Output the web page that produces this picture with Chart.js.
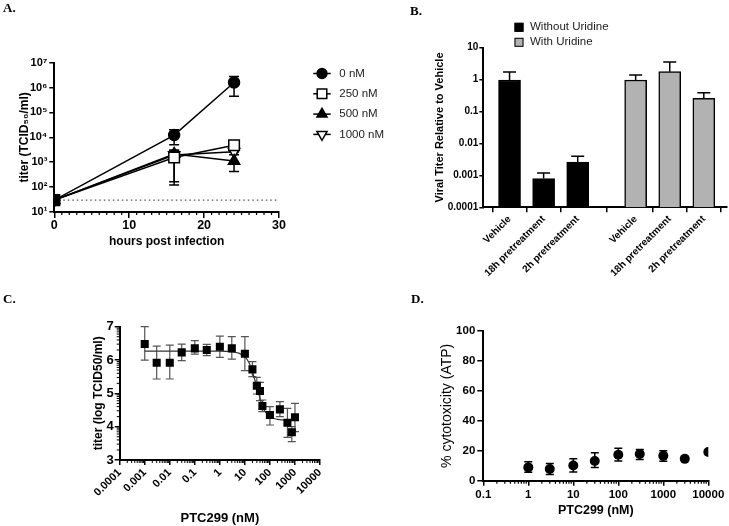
<!DOCTYPE html>
<html>
<head>
<meta charset="utf-8">
<script src="https://cdn.jsdelivr.net/npm/chart.js@4.4.1/dist/chart.umd.min.js"></script>
<style>
html,body{margin:0;padding:0;background:#fff;}
#wrap{position:relative;width:729px;height:526px;overflow:hidden;background:#fff;}
#wrap canvas{position:absolute;left:0;top:0;}
.pl{position:absolute;font-family:"Liberation Serif","Times New Roman",serif;font-weight:bold;font-size:13px;line-height:13px;color:#000;}
</style>
</head>
<body>
<div id="wrap">
  <canvas id="chartA" width="729" height="526"></canvas>
  <canvas id="chartB" width="729" height="526"></canvas>
  <canvas id="chartC" width="729" height="526"></canvas>
  <canvas id="chartD" width="729" height="526"></canvas>
  <div class="pl" style="left:3px;top:1px">A.</div>
  <div class="pl" style="left:410px;top:4px">B.</div>
  <div class="pl" style="left:3px;top:292px">C.</div>
  <div class="pl" style="left:411px;top:292px">D.</div>
</div>
<script>
// ---------------- DATA ----------------
// Panel A
const hoursA = [0, 16, 24];
const seriesLabelsA = ['0 nM', '250 nM', '500 nM', '1000 nM'];
const titerA_0 = [30, 12300, 1600000];
const titerA_250 = [30, 1550, 4800];
const titerA_500 = [30, 2150, 1130];
const titerA_1000 = [30, 1950, 2650];
const errHiA_0 = [null, 20000, 2800000];
const errLoA_0 = [null, 5000, 450000];
const errHiA_250 = [null, 3000, 5600];
const errLoA_250 = [null, 123, 4000];
const errHiA_500 = [null, 2700, 2600];
const errLoA_500 = [null, 1600, 420];
const errHiA_1000 = [null, 3000, 3300];
const errLoA_1000 = [null, 165, 2000];
const limitA = 30;
const xTicksA = [0, 10, 20, 30];
const yTicksA = [10, 100, 1000, 10000, 100000, 1000000, 10000000];
const yTickLabelsA = ['10\u00B9', '10\u00B2', '10\u00B3', '10\u2074', '10\u2075', '10\u2076', '10\u2077'];

// Panel B
const categoriesB = ['Vehicle', '18h pretreatment', '2h pretreatment'];
const withoutUridine = [0.97, 0.0008, 0.0026];
const withoutUridineErr = [1.73, 0.00118, 0.004];
const withUridine = [0.97, 1.78, 0.26];
const withUridineErr = [1.4, 3.55, 0.39];
const yTicksB = [0.0001, 0.001, 0.01, 0.1, 1, 10];
const yTickLabelsB = ['0.0001', '0.001', '0.01', '0.1', '1', '10'];

// Panel C
const concC = [0.001, 0.003, 0.01, 0.03, 0.1, 0.3, 1, 3, 10, 20, 30, 40, 50, 100, 250, 500, 750, 1000];
const titerC = [6.48, 5.92, 5.92, 6.23, 6.35, 6.30, 6.40, 6.35, 6.19, 5.72, 5.23, 5.07, 4.62, 4.35, 4.52, 4.12, 3.83, 4.28];
const titerHiC = [7.0, 6.42, 6.45, 6.48, 6.58, 6.47, 6.72, 6.70, 6.70, 5.95, 5.48, 5.33, 4.80, 4.60, 4.75, 4.55, 4.0, 4.7];
const titerLoC = [6.0, 5.43, 5.43, 5.98, 6.18, 6.13, 6.08, 6.03, 5.68, 5.50, 4.98, 4.78, 4.45, 4.05, 4.30, 3.68, 3.55, 3.85];
const fitXC = [0.001, 0.01, 0.1, 1, 3, 6, 10, 15, 20, 25, 30, 40, 50, 70, 100, 200, 500, 1000];
const fitYC = [6.27, 6.27, 6.27, 6.27, 6.25, 6.2, 6.1, 5.9, 5.65, 5.4, 5.2, 4.85, 4.6, 4.42, 4.3, 4.22, 4.2, 4.2];
const xTicksC = [0.0001, 0.001, 0.01, 0.1, 1, 10, 100, 1000, 10000];
const xTickLabelsC = ['0.0001', '0.001', '0.01', '0.1', '1', '10', '100', '1000', '10000'];
const yTicksC = [3, 4, 5, 6, 7];

// Panel D
const concD = [1, 3, 10, 30, 100, 300, 1000, 3000, 10000];
const cytoD = [8.9, 7.8, 10.2, 13.2, 17.3, 17.8, 16.6, 14.6, 19.2];
const cytoHiD = [12.7, 11.5, 14.6, 18.7, 21.6, 20.9, 20.0, null, null];
const cytoLoD = [5.6, 4.2, 5.8, 8.9, 13.1, 14.2, 13.0, null, null];
const xTicksD = [0.1, 1, 10, 100, 1000, 10000];
const xTickLabelsD = ['0.1', '1', '10', '100', '1000', '10000'];
const yTicksD = [0, 20, 40, 60, 80, 100];

// ---------------- HELPERS ----------------
const W = 729, H = 526;
const FAM = '"Liberation Sans", Arial, Helvetica, sans-serif';
Chart.defaults.font.family = FAM;
Chart.defaults.color = '#000';
Chart.defaults.animation = false;

function fnt(size, weight) { return {family: FAM, size: size, weight: weight || 'bold', lineHeight: 1.2}; }
function pad(a, yW, xH) { return {left: a.l - yW, top: a.t, right: W - a.r, bottom: H - a.b - xH}; }
function axisStyle(tl) {
  return {
    border: {display: true, color: '#000', width: 2},
    grid: {drawOnChartArea: false, drawTicks: true, tickLength: tl, tickColor: '#000', tickWidth: 1.5, color: '#000', lineWidth: 1.5}
  };
}
function setTicks(values) { return s => { s.ticks = values.map(v => ({value: v})); }; }

function drawMarker(ctx, style, x, y, r, fill, stroke, lw, rot) {
  ctx.save();
  ctx.translate(x, y);
  if (rot) ctx.rotate(rot * Math.PI / 180);
  ctx.beginPath();
  if (style === 'circle') ctx.arc(0, 0, r, 0, Math.PI * 2);
  else if (style === 'rect') { const s = r * Math.SQRT1_2; ctx.rect(-s, -s, 2 * s, 2 * s); }
  else if (style === 'triangle') {
    for (let k = 0; k < 3; k++) {
      const a = k * 2 * Math.PI / 3;
      const px = Math.sin(a) * r, py = -Math.cos(a) * r;
      if (k) ctx.lineTo(px, py); else ctx.moveTo(px, py);
    }
    ctx.closePath();
  }
  ctx.fillStyle = fill; ctx.fill();
  if (lw) { ctx.strokeStyle = stroke; ctx.lineWidth = lw; ctx.stroke(); }
  ctx.restore();
}

const errorBars = {
  id: 'errorBars',
  beforeDatasetsDraw(chart) {
    const ctx = chart.ctx;
    chart.data.datasets.forEach((ds, di) => {
      if (!ds.errHi && !ds.errLo) return;
      const meta = chart.getDatasetMeta(di);
      const ys = chart.scales[meta.yAxisID];
      const cap = ds.errCap || 8;
      ctx.save();
      ctx.strokeStyle = ds.errColor || '#000';
      ctx.lineWidth = ds.errWidth || 1.5;
      meta.data.forEach((el, i) => {
        const x = el.x;
        const hi = ds.errHi ? ds.errHi[i] : null;
        const lo = ds.errLo ? ds.errLo[i] : null;
        ctx.beginPath();
        if (hi != null) {
          const yh = ys.getPixelForValue(hi);
          ctx.moveTo(x, el.y); ctx.lineTo(x, yh);
          ctx.moveTo(x - cap / 2, yh); ctx.lineTo(x + cap / 2, yh);
        }
        if (lo != null) {
          const yl = ys.getPixelForValue(lo);
          ctx.moveTo(x, el.y); ctx.lineTo(x, yl);
          ctx.moveTo(x - cap / 2, yl); ctx.lineTo(x + cap / 2, yl);
        }
        ctx.stroke();
      });
      ctx.restore();
    });
  }
};

function makeMinor(cfg) {
  return {
    id: 'minor' + cfg.name,
    afterDraw(chart) {
      const ctx = chart.ctx, a = chart.chartArea;
      ctx.save();
      ctx.strokeStyle = '#000';
      ctx.lineWidth = cfg.width || 1.2;
      ctx.beginPath();
      if (cfg.x) {
        const s = chart.scales.x;
        cfg.x.forEach(v => { const p = s.getPixelForValue(v); ctx.moveTo(p, a.bottom); ctx.lineTo(p, a.bottom + cfg.xLen); });
      }
      if (cfg.y) {
        const s = chart.scales.y;
        cfg.y.forEach(v => { const p = s.getPixelForValue(v); ctx.moveTo(a.left - cfg.yLen, p); ctx.lineTo(a.left, p); });
      }
      ctx.stroke();
      ctx.restore();
    }
  };
}

function makeLegend(cfg) {
  return {
    id: 'legend' + cfg.name,
    afterDraw(chart) {
      const ctx = chart.ctx;
      ctx.save();
      ctx.textBaseline = 'middle';
      ctx.textAlign = 'left';
      let row = 0;
      chart.data.datasets.forEach(ds => {
        if (!ds.label || ds.noLegend) return;
        const y = cfg.y + row * cfg.dy;
        if (cfg.kind === 'line') {
          ctx.strokeStyle = '#000'; ctx.lineWidth = ds.borderWidth;
          ctx.beginPath(); ctx.moveTo(cfg.x, y); ctx.lineTo(cfg.x + cfg.lineLen, y); ctx.stroke();
          drawMarker(ctx, ds.pointStyle, cfg.x + cfg.lineLen / 2, y, ds.pointRadius * cfg.scale, ds.legendFill, '#000', ds.pointBorderWidth, ds.pointRotation);
        } else {
          ctx.fillStyle = ds.backgroundColor;
          ctx.fillRect(cfg.x, y - cfg.size / 2, cfg.size, cfg.size);
          ctx.strokeStyle = '#000'; ctx.lineWidth = 1;
          ctx.strokeRect(cfg.x + 0.5, y - cfg.size / 2 + 0.5, cfg.size - 1, cfg.size - 1);
        }
        ctx.font = cfg.font;
        ctx.fillStyle = cfg.textColor;
        ctx.fillText(ds.label, cfg.textX, y);
        row++;
      });
      ctx.restore();
    }
  };
}

const baseOpts = {
  responsive: false, animation: false, events: [],
  plugins: {legend: {display: false}, tooltip: {enabled: false}}
};

// ---------------- PANEL A ----------------
(function () {
  const area = {l: 54.3, t: 62.7, r: 279, b: 212};
  const yW = 36.5, xH = 37.2;
  const seriesA = [titerA_0, titerA_250, titerA_500, titerA_1000];
  const hiA = [errHiA_0, errHiA_250, errHiA_500, errHiA_1000];
  const loA = [errLoA_0, errLoA_250, errLoA_500, errLoA_1000];
  const marks = [
    {style: 'circle', r: 5.5, fill: '#000', rot: 0},
    {style: 'rect', r: 7.5, fill: '#fff', rot: 0},
    {style: 'triangle', r: 6.5, fill: '#000', rot: 0},
    {style: 'triangle', r: 6.5, fill: '#fff', rot: 180}
  ];
  const datasets = seriesA.map((vals, k) => ({
    label: seriesLabelsA[k],
    data: hoursA.map((h, i) => ({x: h, y: vals[i]})),
    showLine: true, borderColor: '#000', borderWidth: 1.5,
    pointStyle: marks[k].style, pointRadius: marks[k].r, pointRotation: marks[k].rot,
    pointBackgroundColor: k === 1 ? (c => c.dataIndex === 0 ? '#000' : '#fff') : marks[k].fill,
    legendFill: marks[k].fill,
    pointBorderColor: '#000', pointBorderWidth: 1.5,
    errHi: hiA[k], errLo: loA[k], errCap: 10, errWidth: 1.5
  }));
  datasets.push({
    label: 'limit', noLegend: true,
    data: [{x: xTicksA[0], y: limitA}, {x: xTicksA[xTicksA.length - 1], y: limitA}],
    showLine: true, borderColor: '#555', borderWidth: 1.3, borderDash: [1.5, 3], pointRadius: 0
  });
  const minorX = [];
  for (let v = 1; v < 30; v++) if (v % 10) minorX.push(v);
  new Chart(document.getElementById('chartA'), {
    type: 'scatter',
    data: {datasets},
    options: Object.assign({}, baseOpts, {
      layout: {padding: pad(area, yW, xH)},
      scales: {
        x: Object.assign({
          type: 'linear', min: 0, max: 30, bounds: 'data',
          afterBuildTicks: setTicks(xTicksA),
          afterFit: s => { s.height = xH; },
          ticks: {font: fnt(12.5), padding: 0, color: '#000', autoSkip: false, maxRotation: 0},
          title: {display: true, text: 'hours post infection', font: fnt(12), padding: 0, color: '#000'}
        }, axisStyle(6)),
        y: Object.assign({
          type: 'logarithmic', min: 10, max: 1e7, bounds: 'data',
          afterBuildTicks: setTicks(yTicksA),
          afterFit: s => { s.width = yW; },
          ticks: {font: fnt(11), padding: 2, color: '#000', autoSkip: false, callback: (v, i) => yTickLabelsA[i]},
          title: {display: true, text: 'titer (TCID\u2085\u2080/ml)', font: fnt(12), padding: 0, color: '#000'}
        }, axisStyle(5))
      }
    }),
    plugins: [errorBars, makeMinor({name: 'A', x: minorX, xLen: 3}),
      makeLegend({name: 'A', kind: 'line', x: 313.3, lineLen: 17.4, y: 73.5, dy: 20.3, textX: 339.3, scale: 0.9,
        font: '11.5px ' + FAM, textColor: '#222'})]
  });
})();

// ---------------- PANEL B ----------------
(function () {
  const area = {l: 483.3, t: 47.7, r: 727, b: 207.3};
  const yW = 49.9, xH = 80;
  const groupGap = 1.7; // spacing between the two groups, in bar slots
  const posB = (g, i) => 1 + g * (categoriesB.length - 1 + groupGap) + i;
  const xPos = [], xLabels = [];
  [0, 1].forEach(g => categoriesB.forEach((c, i) => { xPos.push(posB(g, i)); xLabels.push(c); }));
  const datasets = [
    {type: 'bar', label: 'Without Uridine', data: categoriesB.map((c, i) => ({x: posB(0, i), y: withoutUridine[i]})),
      backgroundColor: '#000', borderColor: '#000', borderWidth: 1.5, barThickness: 22, grouped: false,
      errHi: withoutUridineErr, errCap: 13, errWidth: 1.5},
    {type: 'bar', label: 'With Uridine', data: categoriesB.map((c, i) => ({x: posB(1, i), y: withUridine[i]})),
      backgroundColor: '#b2b2b2', borderColor: '#000', borderWidth: 1.5, barThickness: 22, grouped: false,
      errHi: withUridineErr, errCap: 13, errWidth: 1.5}
  ];
  new Chart(document.getElementById('chartB'), {
    type: 'bar',
    data: {datasets},
    options: Object.assign({}, baseOpts, {
      layout: {padding: pad(area, yW, xH)},
      scales: {
        x: Object.assign({
          type: 'linear', min: 1 - 0.77, max: 7.38, bounds: 'data', offset: false,
          afterBuildTicks: setTicks(xPos),
          afterFit: s => { s.height = xH; },
          ticks: {font: fnt(10), padding: 1, color: '#000', autoSkip: false, minRotation: 45, maxRotation: 45,
            callback: (v, i) => xLabels[i]}
        }, axisStyle(5)),
        y: Object.assign({
          type: 'logarithmic', min: 0.0001, max: 10, bounds: 'data',
          afterBuildTicks: setTicks(yTicksB),
          afterFit: s => { s.width = yW; },
          ticks: {font: fnt(10), padding: 1, color: '#000', autoSkip: false, callback: (v, i) => yTickLabelsB[i]},
          title: {display: true, text: 'Viral Titer Relative to Vehicle', font: fnt(11), padding: 0, color: '#000'}
        }, axisStyle(4))
      }
    }),
    plugins: [errorBars, makeLegend({name: 'B', kind: 'box', x: 514.5, size: 9, y: 27.3, dy: 15, textX: 530,
      font: '11.5px ' + FAM, textColor: '#222'})]
  });
})();

// ---------------- PANEL C ----------------
(function () {
  const area = {l: 119.7, t: 326.7, r: 320, b: 460};
  const yW = 28.4, xH = 65.8;
  const minorX = [];
  for (let k = -4; k < 4; k++) for (let m = 2; m <= 9; m++) minorX.push(m * Math.pow(10, k));
  const minorY = [];
  for (let k = 3; k < 7; k++) for (let m = 2; m <= 9; m++) minorY.push(k + Math.log10(m));
  const datasets = [
    {label: 'data', data: concC.map((c, i) => ({x: c, y: titerC[i]})), showLine: false,
      pointStyle: 'rect', pointRadius: 5.7, pointBackgroundColor: '#000', pointBorderColor: '#000', pointBorderWidth: 0,
      errHi: titerHiC, errLo: titerLoC, errCap: 8, errColor: '#555', errWidth: 1.2},
    {label: 'fit', data: fitXC.map((c, i) => ({x: c, y: fitYC[i]})), showLine: true, pointRadius: 0,
      borderColor: '#333', borderWidth: 1.2, cubicInterpolationMode: 'monotone'}
  ];
  new Chart(document.getElementById('chartC'), {
    type: 'scatter',
    data: {datasets},
    options: Object.assign({}, baseOpts, {
      layout: {padding: pad(area, yW, xH)},
      scales: {
        x: Object.assign({
          type: 'logarithmic', min: 0.0001, max: 10000, bounds: 'data',
          afterBuildTicks: setTicks(xTicksC),
          afterFit: s => { s.height = xH; },
          ticks: {font: fnt(11), padding: 1, color: '#000', autoSkip: false, minRotation: 45, maxRotation: 45,
            callback: (v, i) => xTickLabelsC[i]},
          title: {display: true, text: 'PTC299 (nM)', font: fnt(13), padding: 0, color: '#000'}
        }, axisStyle(5)),
        y: Object.assign({
          type: 'linear', min: 3, max: 7, bounds: 'data',
          afterBuildTicks: setTicks(yTicksC),
          afterFit: s => { s.width = yW; },
          ticks: {font: fnt(13), padding: 1, color: '#000', autoSkip: false},
          title: {display: true, text: 'titer (log TCID50/ml)', font: fnt(12), padding: 0, color: '#000'}
        }, axisStyle(5))
      }
    }),
    plugins: [errorBars, makeMinor({name: 'C', x: minorX, xLen: 3, y: minorY, yLen: 3, width: 1})]
  });
})();

// ---------------- PANEL D ----------------
(function () {
  const area = {l: 483.3, t: 331, r: 708.3, b: 480.7};
  const yW = 44.7, xH = 37.8;
  const minorX = [];
  for (let k = -1; k < 4; k++) for (let m = 2; m <= 9; m++) minorX.push(m * Math.pow(10, k));
  const datasets = [
    {label: 'cytotoxicity', data: concD.map((c, i) => ({x: c, y: cytoD[i]})), showLine: false,
      pointStyle: 'circle', pointRadius: 5, pointBackgroundColor: '#000', pointBorderColor: '#000', pointBorderWidth: 0,
      errHi: cytoHiD, errLo: cytoLoD, errCap: 8, errWidth: 1.5}
  ];
  new Chart(document.getElementById('chartD'), {
    type: 'scatter',
    data: {datasets},
    options: Object.assign({}, baseOpts, {
      layout: {padding: pad(area, yW, xH)},
      scales: {
        x: Object.assign({
          type: 'logarithmic', min: 0.1, max: 10000, bounds: 'data',
          afterBuildTicks: setTicks(xTicksD),
          afterFit: s => { s.height = xH; },
          ticks: {font: fnt(11.5), padding: 2, color: '#000', autoSkip: false, maxRotation: 0,
            callback: (v, i) => xTickLabelsD[i]},
          title: {display: true, text: 'PTC299 (nM)', font: fnt(12.5), padding: 0, color: '#000'}
        }, axisStyle(5)),
        y: Object.assign({
          type: 'linear', min: 0, max: 100, bounds: 'data',
          afterBuildTicks: setTicks(yTicksD),
          afterFit: s => { s.width = yW; },
          ticks: {font: fnt(11.5), padding: 2, color: '#000', autoSkip: false},
          title: {display: true, text: '% cytotoxicity (ATP)', font: fnt(14, 'normal'), padding: 0, color: '#000'}
        }, axisStyle(6))
      }
    }),
    plugins: [errorBars, makeMinor({name: 'D', x: minorX, xLen: 3})]
  });
})();
</script>
</body>
</html>
